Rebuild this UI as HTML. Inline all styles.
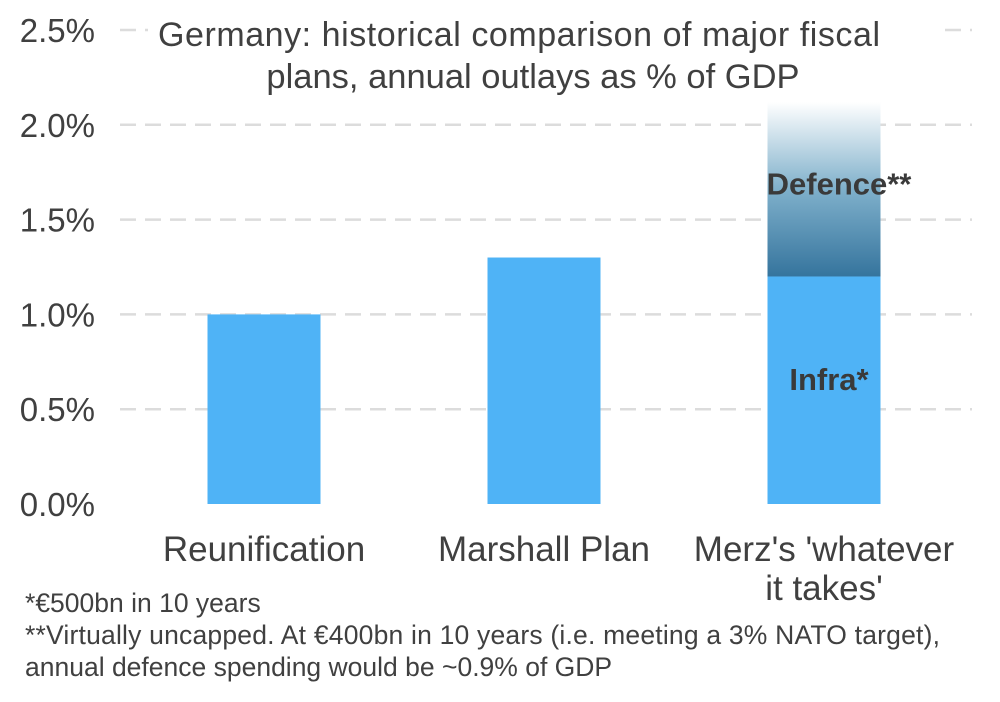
<!DOCTYPE html>
<html><head><meta charset="utf-8"><style>
body{margin:0;background:#fff;font-family:"Liberation Sans",sans-serif;}
svg{display:block}
</style></head><body>
<svg id="chart" width="1000" height="702">
<defs>
<linearGradient id="defg" x1="0" y1="1" x2="0" y2="0">
<stop offset="0" stop-color="#35749d"/>
<stop offset="0.5" stop-color="#7fb0cb"/>
<stop offset="1" stop-color="#ffffff"/>
</linearGradient>
</defs>
<g id="grid"></g>
<g id="bars"></g>
<g id="labels"></g>
<rect x="148" y="10" width="792" height="88" fill="#fff"/>
<text x="519" y="46" font-size="34" fill="#404040" text-anchor="middle" textLength="722">Germany: historical comparison of major fiscal</text>
<text x="533" y="88" font-size="34.5" fill="#404040" text-anchor="middle">plans, annual outlays as % of GDP</text>
<text x="25" y="612" font-size="26.5" fill="#404040">*€500bn in 10 years</text>
<text x="25" y="644" font-size="26.5" fill="#404040" textLength="915">**Virtually uncapped. At €400bn in 10 years (i.e. meeting a 3% NATO target),</text>
<text x="25" y="676" font-size="26.5" fill="#404040">annual defence spending would be ~0.9% of GDP</text>
</svg>
<script>
const categories=["Reunification","Marshall Plan","Merz's 'whatever|it takes'"];
const infraValues=[1.0,1.3,1.2];
const defenceValues=[0,0,0.92];
const yTicks=[0,0.5,1.0,1.5,2.0,2.5];
const tickLabels=["0.0%","0.5%","1.0%","1.5%","2.0%","2.5%"];
const NS="http://www.w3.org/2000/svg";
const y=v=>504-v*189.6;
const xc=i=>264+i*280;
const bw=113;
function mk(tag,attrs,parent,text){const e=document.createElementNS(NS,tag);for(const k in attrs)e.setAttribute(k,attrs[k]);if(text!=null)e.textContent=text;document.getElementById(parent).appendChild(e);return e;}
yTicks.forEach((t,i)=>{
  if(t>0){const l=mk('line',{x1:120,x2:972,y1:y(t),y2:y(t),stroke:'#dcdcdc','stroke-width':2.5,'stroke-dasharray':'16 9'},'grid');
  
  }
  const tx=mk('text',{x:95,y:y(t)+12,'font-size':33,fill:'#404040','text-anchor':'end'},'labels',tickLabels[i]);
  
  
});
categories.forEach((c,i)=>{
  const r=mk('rect',{x:xc(i)-bw/2,y:y(infraValues[i]),width:bw,height:y(0)-y(infraValues[i]),fill:'#4fb3f6'},'bars');
  
  
  if(defenceValues[i]>0){
    const top=infraValues[i]+defenceValues[i];
    const d=mk('rect',{x:xc(i)-bw/2,y:y(top),width:bw,height:y(infraValues[i])-y(top),fill:'url(#defg)'},'bars');
    
    
    const dl=mk('text',{x:xc(i)+15,y:y(infraValues[i]+defenceValues[i]*0.55)+14,'font-size':31,'font-weight':'bold',fill:'#3a3a3a','text-anchor':'middle'},'labels','Defence**');
    
    
    const il=mk('text',{x:xc(i)+5,y:y(infraValues[i]*0.55)+11,'font-size':31,'font-weight':'bold',fill:'#3a3a3a','text-anchor':'middle'},'labels','Infra*');
    
    
  }
  c.split('|').forEach((ln,j)=>{
    const t=mk('text',{x:xc(i),y:561+j*39,'font-size':35,fill:'#404040','text-anchor':'middle'},'labels',ln);
    
    
  });
});
</script>
</body></html>
